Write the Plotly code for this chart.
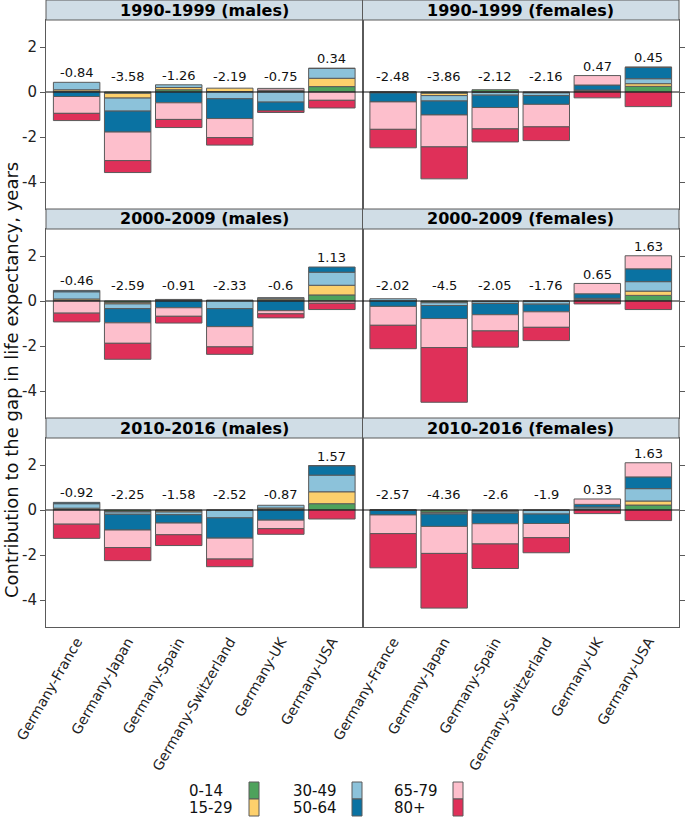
import plotly.graph_objects as go

# ---------------- data ----------------
countries = ["Germany-France", "Germany-Japan", "Germany-Spain",
             "Germany-Switzerland", "Germany-UK", "Germany-USA"]
age_groups = ["0-14", "15-29", "30-49", "50-64", "65-79", "80+"]
age_colors = ["#4EA25C", "#FDD06C", "#8CC2DA", "#0A72A2", "#FDBFCC", "#DF3059"]

panel_titles = ["1990-1999 (males)", "1990-1999 (females)",
                "2000-2009 (males)", "2000-2009 (females)",
                "2010-2016 (males)", "2010-2016 (females)"]

# rows = age groups (0-14 ... 80+), columns = countries
males_1990 = [
    [0.03, -0.06, 0.10, 0.02, 0.04, 0.24],
    [0.07, -0.21, 0.10, 0.15, 0.04, 0.37],
    [0.33, -0.58, 0.12, -0.30, -0.45, 0.44],
    [-0.20, -0.93, -0.48, -0.88, -0.38, 0.00],
    [-0.75, -1.27, -0.74, -0.85, 0.08, -0.37],
    [-0.32, -0.53, -0.36, -0.33, -0.08, -0.34],
]
females_1990 = [
    [-0.02, -0.06, 0.10, -0.02, 0.03, 0.25],
    [0.00, -0.10, -0.02, -0.02, 0.03, 0.12],
    [-0.02, -0.24, -0.12, -0.12, 0.03, 0.22],
    [-0.40, -0.62, -0.55, -0.39, 0.22, 0.51],
    [-1.22, -1.42, -0.95, -1.00, 0.42, 0.00],
    [-0.82, -1.42, -0.58, -0.61, -0.26, -0.65],
]
males_2000 = [
    [0.02, -0.07, 0.03, 0.02, 0.05, 0.27],
    [0.07, -0.06, 0.02, 0.02, 0.05, 0.43],
    [0.32, -0.21, 0.02, -0.34, 0.05, 0.58],
    [0.06, -0.63, -0.30, -0.80, -0.43, 0.23],
    [-0.54, -0.91, -0.38, -0.90, -0.14, -0.10],
    [-0.39, -0.71, -0.30, -0.33, -0.18, -0.28],
]
females_2000 = [
    [0.00, -0.06, -0.02, -0.01, 0.04, 0.25],
    [0.00, -0.02, -0.01, -0.01, 0.02, 0.19],
    [0.10, -0.12, -0.08, -0.12, 0.06, 0.42],
    [-0.24, -0.58, -0.50, -0.34, 0.20, 0.57],
    [-0.84, -1.29, -0.72, -0.69, 0.46, 0.58],
    [-1.04, -2.43, -0.72, -0.59, -0.13, -0.38],
]
males_2010 = [
    [0.02, -0.07, -0.04, -0.01, 0.04, 0.28],
    [0.06, -0.02, -0.05, -0.01, 0.05, 0.53],
    [0.20, -0.10, -0.12, -0.33, 0.12, 0.74],
    [0.06, -0.70, -0.37, -0.90, -0.45, 0.42],
    [-0.63, -0.78, -0.52, -0.93, -0.38, 0.00],
    [-0.63, -0.58, -0.48, -0.34, -0.25, -0.40],
]
females_2010 = [
    [-0.01, -0.10, -0.03, -0.01, 0.03, 0.22],
    [-0.01, -0.03, -0.03, -0.01, 0.02, 0.18],
    [0.00, -0.05, -0.08, -0.16, 0.08, 0.55],
    [-0.20, -0.55, -0.47, -0.42, 0.12, 0.52],
    [-0.83, -1.20, -0.90, -0.63, 0.24, 0.63],
    [-1.52, -2.43, -1.09, -0.67, -0.16, -0.47],
]

totals_males_1990 = [-0.84, -3.58, -1.26, -2.19, -0.75, 0.34]
totals_females_1990 = [-2.48, -3.86, -2.12, -2.16, 0.47, 0.45]
totals_males_2000 = [-0.46, -2.59, -0.91, -2.33, -0.6, 1.13]
totals_females_2000 = [-2.02, -4.5, -2.05, -1.76, 0.65, 1.63]
totals_males_2010 = [-0.92, -2.25, -1.58, -2.52, -0.87, 1.57]
totals_females_2010 = [-2.57, -4.36, -2.6, -1.9, 0.33, 1.63]

panels = [males_1990, females_1990, males_2000, females_2000, males_2010, females_2010]
totals = [totals_males_1990, totals_females_1990, totals_males_2000,
          totals_females_2000, totals_males_2010, totals_females_2010]

y_tickvals = [2, 0, -2, -4]
y_ticktext = ["2", "0", "-2", "-4"]

# ---------------- layout geometry ----------------
W, H = 685, 817
L, R, T, B = 46, 6, 0, 190
PW, PH = W - L - R, H - T - B
ROW_H = PH / 3.0
STRIP_H = 20
FONT = "DejaVu Sans"
EDGE = "#5a5a5a"


def px2x(px):
    return (px - L) / PW


def py2y(py):
    return 1 - (py - T) / PH


fig = go.Figure()
layout = dict(
    width=W, height=H,
    margin=dict(l=L, r=R, t=T, b=B, autoexpand=False),
    paper_bgcolor="white", plot_bgcolor="white",
    barmode="relative", bargap=0.09,
    showlegend=False,
    font=dict(family=FONT, size=13, color="#111"),
)
shapes = []
annotations = []

for i, (data, tot) in enumerate(zip(panels, totals)):
    row, col = i // 2, i % 2
    n = i + 1
    xa = "x" if n == 1 else f"x{n}"
    ya = "y" if n == 1 else f"y{n}"
    for a, age in enumerate(age_groups):
        fig.add_trace(go.Bar(
            x=countries, y=data[a], name=age,
            marker=dict(color=age_colors[a], line=dict(color=EDGE, width=1)),
            xaxis=xa, yaxis=ya, hoverinfo="x+y+name",
        ))
    x_dom = [0.0, 0.5] if col == 0 else [0.5, 1.0]
    top_px = row * ROW_H + STRIP_H
    bot_px = (row + 1) * ROW_H
    y_dom = [py2y(bot_px), py2y(top_px)]
    xkey = "xaxis" if n == 1 else f"xaxis{n}"
    ykey = "yaxis" if n == 1 else f"yaxis{n}"
    layout[xkey] = dict(
        domain=x_dom, anchor=ya, type="category",
        range=[-0.6, 5.6], showgrid=False, zeroline=False,
        showline=True, linecolor=EDGE, linewidth=1, mirror=True,
        ticks="", showticklabels=(row == 2), tickangle=-60,
        tickfont=dict(family=FONT, size=14, color="#222"),
        categoryorder="array", categoryarray=countries, automargin=False,
    )
    layout[ykey] = dict(
        domain=y_dom, anchor=xa, range=[-5.2, 3.2],
        showgrid=False, zeroline=False,
        showline=True, linecolor=EDGE, linewidth=1, mirror=True,
        tickvals=y_tickvals, ticktext=y_ticktext,
        ticks="outside", ticklen=5, tickcolor=EDGE,
        side="left" if col == 0 else "right",
        showticklabels=(col == 0), automargin=False,
        tickfont=dict(family=FONT, size=15, color="#222"),
    )
    # zero reference line
    shapes.append(dict(type="line", xref=f"{xa} domain", yref=ya,
                       x0=0, x1=1, y0=0, y1=0,
                       line=dict(color="#111", width=1), layer="above"))
    # strip
    s_top = row * ROW_H
    shapes.append(dict(type="rect", xref="paper", yref="paper",
                       x0=x_dom[0], x1=x_dom[1],
                       y0=py2y(s_top + STRIP_H), y1=py2y(s_top),
                       fillcolor="#D0DDE6", line=dict(color=EDGE, width=1),
                       layer="above"))
    annotations.append(dict(xref="paper", yref="paper",
                            x=(x_dom[0] + x_dom[1]) / 2,
                            y=py2y(s_top + STRIP_H / 2),
                            text=f"<b>{panel_titles[i]}</b>", showarrow=False,
                            font=dict(family=FONT, size=16, color="#000"),
                            xanchor="center", yanchor="middle"))
    # value labels
    for c, country in enumerate(countries):
        pos = sum(v for v in (data[a][c] for a in range(len(age_groups))) if v > 0)
        annotations.append(dict(xref=xa, yref=ya, x=country,
                                y=max(pos, 0.25) + 0.42,
                                text=str(tot[c]), showarrow=False,
                                font=dict(family=FONT, size=13, color="#111"),
                                xanchor="center", yanchor="middle"))

# y-axis title
annotations.append(dict(xref="paper", yref="paper", x=px2x(11), y=py2y(380),
                        text="Contribution to the gap in life expectancy, years",
                        textangle=-90, showarrow=False,
                        font=dict(family=FONT, size=18, color="#111"),
                        xanchor="center", yanchor="middle"))

# legend (3 columns x 2 rows, label then colour key)
leg_text_x = [187, 291, 392]
leg_box_x = [249, 352, 453]
leg_row_y = [782, 799]
for k, age in enumerate(age_groups):
    cidx, ridx = k // 2, k % 2
    y0 = leg_row_y[ridx]
    y1 = y0 + 17
    shapes.append(dict(type="rect", xref="paper", yref="paper",
                       x0=px2x(leg_box_x[cidx]), x1=px2x(leg_box_x[cidx] + 10),
                       y0=py2y(y1), y1=py2y(y0),
                       fillcolor=age_colors[k], line=dict(color=EDGE, width=1)))
    annotations.append(dict(xref="paper", yref="paper",
                            x=px2x(leg_text_x[cidx]), y=py2y((y0 + y1) / 2),
                            text=age, showarrow=False,
                            font=dict(family=FONT, size=15, color="#111"),
                            xanchor="left", yanchor="middle"))

layout["shapes"] = shapes
layout["annotations"] = annotations
fig.update_layout(**layout)
fig.write_html("out.html",
               config={"displayModeBar": False},
               post_script="document.body.style.margin='0px';"
                           "document.body.style.overflow='hidden';")
